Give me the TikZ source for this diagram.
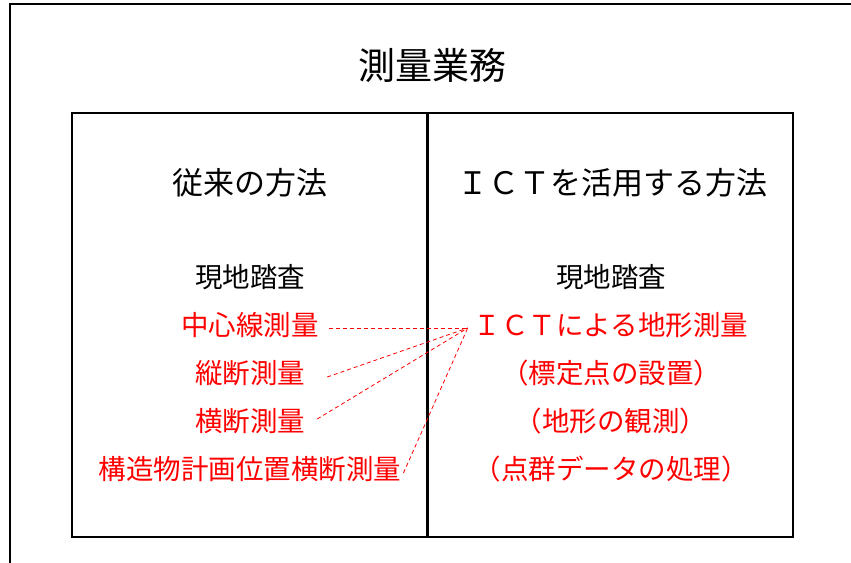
\documentclass[tikz,border=0pt]{standalone}
\usepackage{fontspec}
\newfontfamily\jp{Noto Sans CJK JP}
\usetikzlibrary{positioning}

\begin{document}
\begin{tikzpicture}[x=1pt,y=-1pt,
  body/.style={font=\jp\fontsize{27.5}{30}\selectfont, inner sep=0pt},
  item/.style={body, text=red},
  head/.style={font=\jp\fontsize{31}{34}\selectfont},
  link/.style={red, dash pattern=on 4pt off 3pt, line width=0.8pt},
  node distance=48pt]
\useasboundingbox (0,0) rectangle (851,562);
% frames
\draw[line width=1.5pt] (10,600) -- (10,4) -- (900,4);
\draw[line width=1.5pt] (72,113) rectangle (793,537);
\draw[line width=3pt] (427,113) -- (427,537);
\node (title) at (432,65) [font=\jp\fontsize{37}{40}\selectfont] {測量業務};
\node (oldhead) at (250,183) [head] {従来の方法};
\node (icthead) at (612,183) [head] {ＩＣＴを活用する方法};
% left column
\node (oldsite) at (250,277) [body] {現地踏査};
\node (center) [item, below of=oldsite] {中心線測量};
\node (profile) [item, below of=center] {縦断測量};
\node (cross) [item, below of=profile] {横断測量};
\node (struct) [item, below of=cross] {構造物計画位置横断測量};
% right column
\node (newsite) at (611,277) [body] {現地踏査};
\node (ict) [item, below of=newsite] {ＩＣＴによる地形測量};
\node (gcp) [item, below of=ict] {（標定点の設置）};
\node (terrain) [item, below of=gcp] {（地形の観測）};
\node (cloud) [item, below of=terrain] {（点群データの処理）};
\draw[link] ([shift={(10pt,-3pt)}]center.east) -- ([shift={(-6pt,-3pt)}]ict.west);
\draw[link] ([shift={(22pt,-4pt)}]profile.east) -- ([shift={(-6pt,-3pt)}]ict.west);
\draw[link] ([shift={(12pt,2pt)}]cross.east) -- ([shift={(-6pt,-3pt)}]ict.west);
\draw[link] ([shift={(2pt,-4pt)}]struct.east) -- ([shift={(-6pt,-3pt)}]ict.west);
\end{tikzpicture}
\end{document}
